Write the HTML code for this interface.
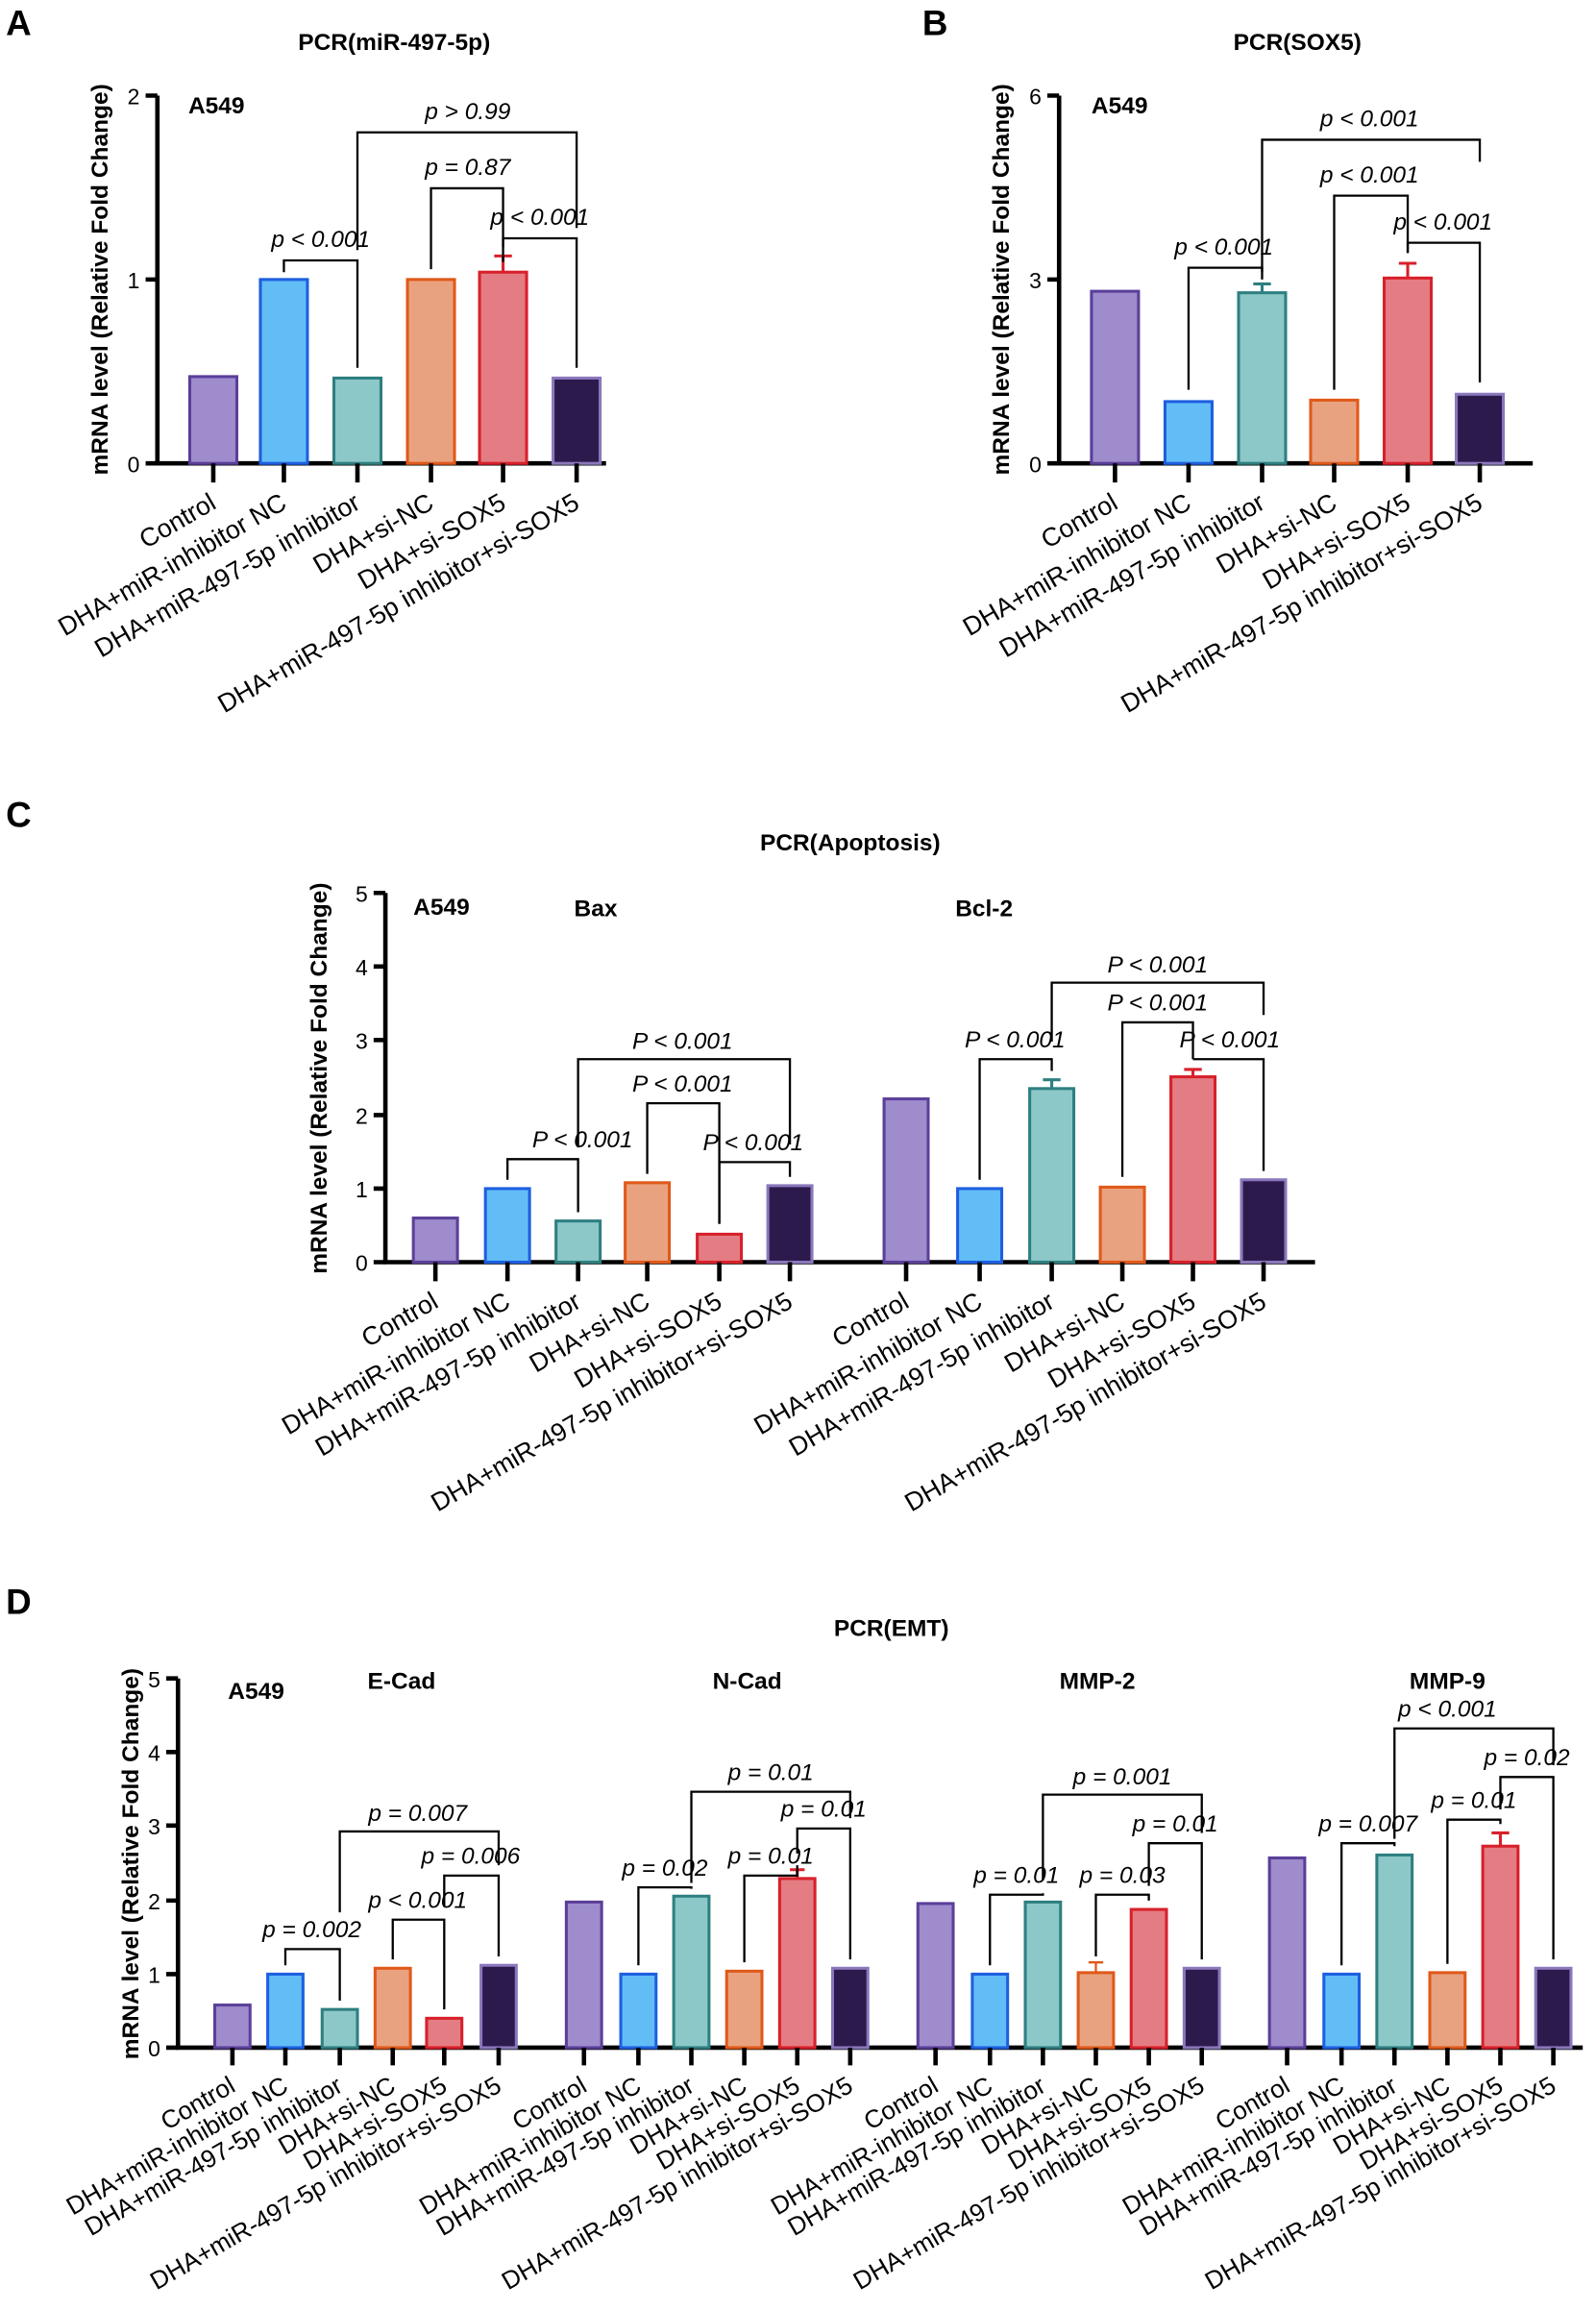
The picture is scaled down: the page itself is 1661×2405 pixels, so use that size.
<!DOCTYPE html>
<html><head><meta charset="utf-8"><style>
html,body{margin:0;padding:0;background:#fff}
svg{display:block}
text{font-family:"Liberation Sans",Arial,sans-serif;fill:#000}
.t{font-weight:bold;font-size:16px}
.L{font-weight:bold;font-size:24px}
.s{font-weight:bold;font-size:16px}
.yl{font-weight:bold;font-size:16px}
.tk{font-size:15px}
.xl{font-size:17.5px}
.xd{font-size:17px}
.p{font-style:italic;font-size:16px}
.ax{stroke:#000;stroke-width:3;fill:none}
.br{stroke:#000;stroke-width:1.5;fill:none}
.c1{fill:#9e8ccc;stroke:#5b3f99;stroke-width:2}
.c2{fill:#62bdf6;stroke:#1d5fe0;stroke-width:2}
.c3{fill:#8cc8c8;stroke:#2e7f80;stroke-width:2}
.c4{fill:#e9a27f;stroke:#e0591a;stroke-width:2}
.c5{fill:#e47c83;stroke:#d8202a;stroke-width:2}
.c6{fill:#2d1a4d;stroke:#8a78bd;stroke-width:2}
.e5{stroke:#d8202a;stroke-width:2;fill:none}
.e3{stroke:#2e7f80;stroke-width:2;fill:none}
</style></head><body>
<svg width="1661" height="2405" viewBox="0 0 1085 1571" xmlns="http://www.w3.org/2000/svg">
<!-- ===== A ===== -->
<text class="L" x="4" y="24">A</text>
<text class="t" x="268" y="34" text-anchor="middle">PCR(miR-497-5p)</text>
<text class="s" x="128" y="77">A549</text>
<text class="yl" transform="translate(73,190) rotate(-90)" text-anchor="middle">mRNA level (Relative Fold Change)</text>
<path class="ax" d="M107,65 V315 H412"/>
<path class="ax" d="M99,65H107 M99,190H107 M99,315H107"/>
<text class="tk" x="95" y="71" text-anchor="end">2</text>
<text class="tk" x="95" y="196" text-anchor="end">1</text>
<text class="tk" x="95" y="321" text-anchor="end">0</text>
<rect class="c1" x="129" y="256" width="32" height="59"/>
<rect class="c2" x="177" y="190" width="32" height="125"/>
<rect class="c3" x="227" y="257" width="32" height="58"/>
<rect class="c4" x="277" y="190" width="32" height="125"/>
<rect class="c5" x="326" y="185" width="32" height="130"/>
<path class="e5" d="M342,185V174M336,174H348"/>
<rect class="c6" x="376" y="257" width="32" height="58"/>
<path class="ax" d="M145,315V328M193,315V328M243,315V328M293,315V328M342,315V328M392,315V328"/>
<g class="xl" text-anchor="end">
<text transform="translate(148,345) rotate(-30)">Control</text>
<text transform="translate(196,345) rotate(-30)">DHA+miR-inhibitor NC</text>
<text transform="translate(246,345) rotate(-30)">DHA+miR-497-5p inhibitor</text>
<text transform="translate(296,345) rotate(-30)">DHA+si-NC</text>
<text transform="translate(345,345) rotate(-30)">DHA+si-SOX5</text>
<text transform="translate(395,345) rotate(-30)">DHA+miR-497-5p inhibitor+si-SOX5</text>
</g>
<path class="br" d="M193,185V177H243V250"/>
<text class="p" x="218" y="168" text-anchor="middle">p &lt; 0.001</text>
<path class="br" d="M293,183V128H342V178"/>
<text class="p" x="318" y="119" text-anchor="middle">p = 0.87</text>
<path class="br" d="M342,168V162H392V250"/>
<text class="p" x="367" y="153" text-anchor="middle">p &lt; 0.001</text>
<path class="br" d="M243,170V90H392V155"/>
<text class="p" x="318" y="81" text-anchor="middle">p &gt; 0.99</text>

<!-- ===== B ===== -->
<text class="L" x="627" y="24">B</text>
<text class="t" x="882" y="34" text-anchor="middle">PCR(SOX5)</text>
<text class="s" x="742" y="77">A549</text>
<text class="yl" transform="translate(686,190) rotate(-90)" text-anchor="middle">mRNA level (Relative Fold Change)</text>
<path class="ax" d="M720,65 V315 H1042"/>
<path class="ax" d="M712,65H720 M712,190H720 M712,315H720"/>
<text class="tk" x="708" y="71" text-anchor="end">6</text>
<text class="tk" x="708" y="196" text-anchor="end">3</text>
<text class="tk" x="708" y="321" text-anchor="end">0</text>
<rect class="c1" x="742" y="198" width="32" height="117"/>
<rect class="c2" x="792" y="273" width="32" height="42"/>
<rect class="c3" x="842" y="199" width="32" height="116"/>
<path class="e3" d="M858,199V193M852,193H864"/>
<rect class="c4" x="891" y="272" width="32" height="43"/>
<rect class="c5" x="941" y="189" width="32" height="126"/>
<path class="e5" d="M957,189V179M951,179H963"/>
<rect class="c6" x="990" y="268" width="32" height="47"/>
<path class="ax" d="M758,315V328M808,315V328M858,315V328M907,315V328M957,315V328M1006,315V328"/>
<g class="xl" text-anchor="end">
<text transform="translate(761,345) rotate(-30)">Control</text>
<text transform="translate(811,345) rotate(-30)">DHA+miR-inhibitor NC</text>
<text transform="translate(861,345) rotate(-30)">DHA+miR-497-5p inhibitor</text>
<text transform="translate(910,345) rotate(-30)">DHA+si-NC</text>
<text transform="translate(960,345) rotate(-30)">DHA+si-SOX5</text>
<text transform="translate(1009,345) rotate(-30)">DHA+miR-497-5p inhibitor+si-SOX5</text>
</g>
<path class="br" d="M808,265V182H858V190"/>
<text class="p" x="832" y="173" text-anchor="middle">p &lt; 0.001</text>
<path class="br" d="M907,265V133H957V172"/>
<text class="p" x="931" y="124" text-anchor="middle">p &lt; 0.001</text>
<path class="br" d="M957,172V165H1006V260"/>
<text class="p" x="981" y="156" text-anchor="middle">p &lt; 0.001</text>
<path class="br" d="M858,185V95H1006V110"/>
<text class="p" x="931" y="86" text-anchor="middle">p &lt; 0.001</text>

<!-- ===== C ===== -->
<text class="L" x="4" y="562">C</text>
<text class="t" x="578" y="578" text-anchor="middle">PCR(Apoptosis)</text>
<text class="s" x="281" y="622">A549</text>
<text class="s" x="405" y="623" text-anchor="middle">Bax</text>
<text class="s" x="669" y="623" text-anchor="middle">Bcl-2</text>
<text class="yl" transform="translate(222,733) rotate(-90)" text-anchor="middle">mRNA level (Relative Fold Change)</text>
<path class="ax" d="M262,607 V858 H894"/>
<path class="ax" d="M254,607H262M254,657H262M254,707H262M254,758H262M254,808H262M254,858H262"/>
<text class="tk" x="250" y="613" text-anchor="end">5</text>
<text class="tk" x="250" y="663" text-anchor="end">4</text>
<text class="tk" x="250" y="713" text-anchor="end">3</text>
<text class="tk" x="250" y="764" text-anchor="end">2</text>
<text class="tk" x="250" y="814" text-anchor="end">1</text>
<text class="tk" x="250" y="864" text-anchor="end">0</text>
<rect class="c1" x="281" y="828" width="30" height="30"/>
<rect class="c2" x="330" y="808" width="30" height="50"/>
<rect class="c3" x="378" y="830" width="30" height="28"/>
<rect class="c4" x="425" y="804" width="30" height="54"/>
<rect class="c5" x="474" y="839" width="30" height="19"/>
<rect class="c6" x="522" y="806" width="30" height="52"/>
<rect class="c1" x="601" y="747" width="30" height="111"/>
<rect class="c2" x="651" y="808" width="30" height="50"/>
<rect class="c3" x="700" y="740" width="30" height="118"/>
<path class="e3" d="M715,740V734M709,734H721"/>
<rect class="c4" x="748" y="807" width="30" height="51"/>
<rect class="c5" x="796" y="732" width="30" height="126"/>
<path class="e5" d="M811,732V727M805,727H817"/>
<rect class="c6" x="844" y="802" width="30" height="56"/>
<path class="ax" d="M296,858V871M345,858V871M393,858V871M440,858V871M489,858V871M537,858V871M616,858V871M666,858V871M715,858V871M763,858V871M811,858V871M859,858V871"/>
<g class="xl" text-anchor="end">
<text transform="translate(299,888) rotate(-30)">Control</text>
<text transform="translate(348,888) rotate(-30)">DHA+miR-inhibitor NC</text>
<text transform="translate(396,888) rotate(-30)">DHA+miR-497-5p inhibitor</text>
<text transform="translate(443,888) rotate(-30)">DHA+si-NC</text>
<text transform="translate(492,888) rotate(-30)">DHA+si-SOX5</text>
<text transform="translate(540,888) rotate(-30)">DHA+miR-497-5p inhibitor+si-SOX5</text>
<text transform="translate(619,888) rotate(-30)">Control</text>
<text transform="translate(669,888) rotate(-30)">DHA+miR-inhibitor NC</text>
<text transform="translate(718,888) rotate(-30)">DHA+miR-497-5p inhibitor</text>
<text transform="translate(766,888) rotate(-30)">DHA+si-NC</text>
<text transform="translate(814,888) rotate(-30)">DHA+si-SOX5</text>
<text transform="translate(862,888) rotate(-30)">DHA+miR-497-5p inhibitor+si-SOX5</text>
</g>
<path class="br" d="M345,802V788H393V824"/>
<text class="p" x="396" y="780" text-anchor="middle">P &lt; 0.001</text>
<path class="br" d="M440,798V750H489V832"/>
<text class="p" x="464" y="742" text-anchor="middle">P &lt; 0.001</text>
<path class="br" d="M489,832V790H537V800"/>
<text class="p" x="512" y="782" text-anchor="middle">P &lt; 0.001</text>
<path class="br" d="M393,780V720H537V778"/>
<text class="p" x="464" y="713" text-anchor="middle">P &lt; 0.001</text>
<path class="br" d="M666,802V720H715V728"/>
<text class="p" x="690" y="712" text-anchor="middle">P &lt; 0.001</text>
<path class="br" d="M763,800V695H811V720"/>
<text class="p" x="787" y="687" text-anchor="middle">P &lt; 0.001</text>
<path class="br" d="M811,720V720H859V796"/>
<text class="p" x="836" y="712" text-anchor="middle">P &lt; 0.001</text>
<path class="br" d="M715,708V668H859V690"/>
<text class="p" x="787" y="661" text-anchor="middle">P &lt; 0.001</text>

<!-- ===== D ===== -->
<text class="L" x="4" y="1097">D</text>
<text class="t" x="606" y="1112" text-anchor="middle">PCR(EMT)</text>
<text class="s" x="155" y="1155">A549</text>
<text class="s" x="273" y="1148" text-anchor="middle">E-Cad</text>
<text class="s" x="508" y="1148" text-anchor="middle">N-Cad</text>
<text class="s" x="746" y="1148" text-anchor="middle">MMP-2</text>
<text class="s" x="984" y="1148" text-anchor="middle">MMP-9</text>
<text class="yl" transform="translate(94,1267) rotate(-90)" text-anchor="middle">mRNA level (Relative Fold Change)</text>
<path class="ax" d="M121,1141 V1392 H1076"/>
<path class="ax" d="M113,1141H121M113,1191H121M113,1241H121M113,1292H121M113,1342H121M113,1392H121"/>
<text class="tk" x="109" y="1147" text-anchor="end">5</text>
<text class="tk" x="109" y="1197" text-anchor="end">4</text>
<text class="tk" x="109" y="1247" text-anchor="end">3</text>
<text class="tk" x="109" y="1298" text-anchor="end">2</text>
<text class="tk" x="109" y="1348" text-anchor="end">1</text>
<text class="tk" x="109" y="1398" text-anchor="end">0</text>
<rect class="c1" x="146" y="1363" width="24" height="29"/>
<rect class="c2" x="182" y="1342" width="24" height="50"/>
<rect class="c3" x="219" y="1366" width="24" height="26"/>
<rect class="c4" x="255" y="1338" width="24" height="54"/>
<rect class="c5" x="290" y="1372" width="24" height="20"/>
<rect class="c6" x="327" y="1336" width="24" height="56"/>
<rect class="c1" x="385" y="1293" width="24" height="99"/>
<rect class="c2" x="422" y="1342" width="24" height="50"/>
<rect class="c3" x="458" y="1289" width="24" height="103"/>
<rect class="c4" x="494" y="1340" width="24" height="52"/>
<rect class="c5" x="530" y="1277" width="24" height="115"/>
<path class="e5" d="M542,1277V1271M537,1271H547"/>
<rect class="c6" x="566" y="1338" width="24" height="54"/>
<rect class="c1" x="624" y="1294" width="24" height="98"/>
<rect class="c2" x="661" y="1342" width="24" height="50"/>
<rect class="c3" x="697" y="1293" width="24" height="99"/>
<rect class="c4" x="733" y="1341" width="24" height="51"/>
<path class="br" style="stroke:#e0591a" d="M745,1341V1334M740,1334H750"/>
<rect class="c5" x="769" y="1298" width="24" height="94"/>
<rect class="c6" x="805" y="1338" width="24" height="54"/>
<rect class="c1" x="863" y="1263" width="24" height="129"/>
<rect class="c2" x="900" y="1342" width="24" height="50"/>
<rect class="c3" x="936" y="1261" width="24" height="131"/>
<rect class="c4" x="972" y="1341" width="24" height="51"/>
<rect class="c5" x="1008" y="1255" width="24" height="137"/>
<path class="e5" d="M1020,1255V1246M1014,1246H1026"/>
<rect class="c6" x="1044" y="1338" width="24" height="54"/>
<path class="ax" d="M158,1392V1404M194,1392V1404M231,1392V1404M267,1392V1404M302,1392V1404M339,1392V1404M397,1392V1404M434,1392V1404M470,1392V1404M506,1392V1404M542,1392V1404M578,1392V1404M636,1392V1404M673,1392V1404M709,1392V1404M745,1392V1404M781,1392V1404M817,1392V1404M875,1392V1404M912,1392V1404M948,1392V1404M984,1392V1404M1020,1392V1404M1056,1392V1404"/>
<g class="xd" text-anchor="end">
<text transform="translate(161,1421) rotate(-30)">Control</text>
<text transform="translate(197,1421) rotate(-30)">DHA+miR-inhibitor NC</text>
<text transform="translate(234,1421) rotate(-30)">DHA+miR-497-5p inhibitor</text>
<text transform="translate(270,1421) rotate(-30)">DHA+si-NC</text>
<text transform="translate(305,1421) rotate(-30)">DHA+si-SOX5</text>
<text transform="translate(342,1421) rotate(-30)">DHA+miR-497-5p inhibitor+si-SOX5</text>
<text transform="translate(400,1421) rotate(-30)">Control</text>
<text transform="translate(437,1421) rotate(-30)">DHA+miR-inhibitor NC</text>
<text transform="translate(473,1421) rotate(-30)">DHA+miR-497-5p inhibitor</text>
<text transform="translate(509,1421) rotate(-30)">DHA+si-NC</text>
<text transform="translate(545,1421) rotate(-30)">DHA+si-SOX5</text>
<text transform="translate(581,1421) rotate(-30)">DHA+miR-497-5p inhibitor+si-SOX5</text>
<text transform="translate(639,1421) rotate(-30)">Control</text>
<text transform="translate(676,1421) rotate(-30)">DHA+miR-inhibitor NC</text>
<text transform="translate(712,1421) rotate(-30)">DHA+miR-497-5p inhibitor</text>
<text transform="translate(748,1421) rotate(-30)">DHA+si-NC</text>
<text transform="translate(784,1421) rotate(-30)">DHA+si-SOX5</text>
<text transform="translate(820,1421) rotate(-30)">DHA+miR-497-5p inhibitor+si-SOX5</text>
<text transform="translate(878,1421) rotate(-30)">Control</text>
<text transform="translate(915,1421) rotate(-30)">DHA+miR-inhibitor NC</text>
<text transform="translate(951,1421) rotate(-30)">DHA+miR-497-5p inhibitor</text>
<text transform="translate(987,1421) rotate(-30)">DHA+si-NC</text>
<text transform="translate(1023,1421) rotate(-30)">DHA+si-SOX5</text>
<text transform="translate(1059,1421) rotate(-30)">DHA+miR-497-5p inhibitor+si-SOX5</text>
</g>
<path class="br" d="M194,1336V1325H231V1360"/>
<text class="p" x="212" y="1317" text-anchor="middle">p = 0.002</text>
<path class="br" d="M267,1332V1305H302V1366"/>
<text class="p" x="284" y="1297" text-anchor="middle">p &lt; 0.001</text>
<path class="br" d="M302,1296V1275H339V1330"/>
<text class="p" x="320" y="1267" text-anchor="middle">p = 0.006</text>
<path class="br" d="M231,1300V1245H339V1268"/>
<text class="p" x="284" y="1238" text-anchor="middle">p = 0.007</text>
<path class="br" d="M434,1336V1283H470V1284"/>
<text class="p" x="452" y="1275" text-anchor="middle">p = 0.02</text>
<path class="br" d="M506,1334V1275H542V1268"/>
<text class="p" x="524" y="1267" text-anchor="middle">p = 0.01</text>
<path class="br" d="M542,1260V1243H578V1332"/>
<text class="p" x="560" y="1235" text-anchor="middle">p = 0.01</text>
<path class="br" d="M470,1280V1218H578V1236"/>
<text class="p" x="524" y="1210" text-anchor="middle">p = 0.01</text>
<path class="br" d="M673,1336V1288H709V1287"/>
<text class="p" x="691" y="1280" text-anchor="middle">p = 0.01</text>
<path class="br" d="M745,1330V1288H781V1292"/>
<text class="p" x="763" y="1280" text-anchor="middle">p = 0.03</text>
<path class="br" d="M781,1282V1253H817V1332"/>
<text class="p" x="799" y="1245" text-anchor="middle">p = 0.01</text>
<path class="br" d="M709,1278V1220H817V1246"/>
<text class="p" x="763" y="1213" text-anchor="middle">p = 0.001</text>
<path class="br" d="M912,1336V1253H948V1255"/>
<text class="p" x="930" y="1245" text-anchor="middle">p = 0.007</text>
<path class="br" d="M984,1335V1237H1020V1240"/>
<text class="p" x="1002" y="1229" text-anchor="middle">p = 0.01</text>
<path class="br" d="M1020,1230V1208H1056V1332"/>
<text class="p" x="1038" y="1200" text-anchor="middle">p = 0.02</text>
<path class="br" d="M948,1250V1175H1056V1200"/>
<text class="p" x="984" y="1167" text-anchor="middle">p &lt; 0.001</text>
</svg>
</body></html>
